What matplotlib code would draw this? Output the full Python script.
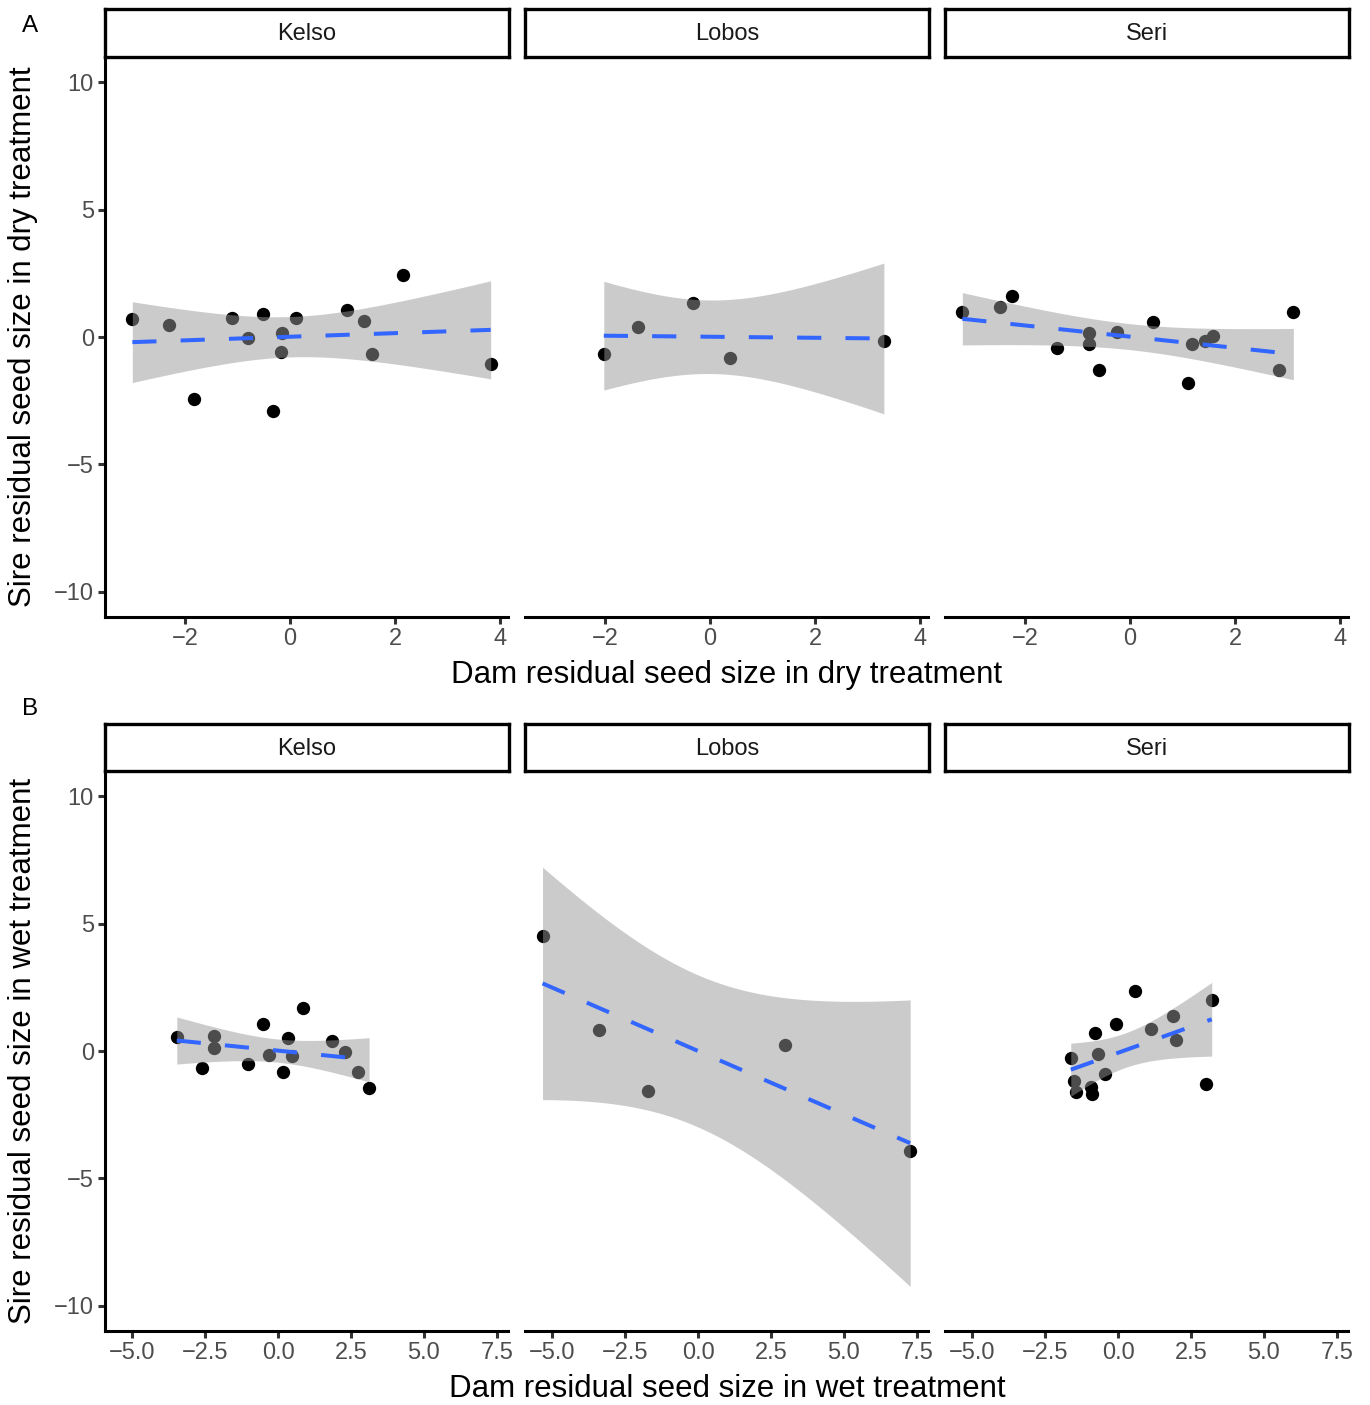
import numpy as np
import matplotlib
matplotlib.use("Agg")
import matplotlib.pyplot as plt

plt.rcParams['font.family'] = ['Liberation Sans', 'DejaVu Sans']

sites = ["Kelso", "Lobos", "Seri"]

# dry treatment (row A): dam residual (x) vs sire residual (y)
dry_x = {
    "Kelso": [-3.00, -2.30, -1.83, -1.10, -0.52, -0.79, -0.32, -0.15, -0.17, 0.11, 1.09, 1.40, 1.56, 2.15, 3.82],
    "Lobos": [-2.02, -1.36, -0.32, 0.38, 3.31],
    "Seri": [-3.19, -2.48, -2.25, -1.39, -0.77, -0.78, -0.58, -0.25, 0.44, 1.11, 1.18, 1.43, 1.58, 2.83, 3.11],
}
dry_y = {
    "Kelso": [0.71, 0.48, -2.44, 0.76, 0.89, -0.04, -2.90, 0.15, -0.60, 0.75, 1.08, 0.63, -0.67, 2.43, -1.08],
    "Lobos": [-0.68, 0.38, 1.33, -0.84, -0.14],
    "Seri": [0.97, 1.18, 1.61, -0.45, 0.17, -0.29, -1.29, 0.20, 0.60, -1.80, -0.28, -0.16, 0.03, -1.29, 1.00],
}

# wet treatment (row B)
wet_x = {
    "Kelso": [-3.47, -2.60, -2.18, -2.18, -1.04, -0.51, -0.31, 0.16, 0.33, 0.47, 0.87, 1.84, 2.29, 2.73, 3.12],
    "Lobos": [-5.33, -3.39, -1.72, 2.98, 7.27],
    "Seri": [-1.62, -1.50, -1.45, -0.80, -0.94, -0.88, -0.68, -0.45, -0.08, 0.59, 1.12, 1.90, 1.98, 3.00, 3.21],
}
wet_y = {
    "Kelso": [0.56, -0.68, 0.59, 0.13, -0.52, 1.06, -0.14, -0.81, 0.52, -0.18, 1.70, 0.39, -0.04, -0.84, -1.47],
    "Lobos": [4.53, 0.83, -1.57, 0.24, -3.93],
    "Seri": [-0.28, -1.18, -1.61, 0.72, -1.41, -1.69, -0.10, -0.92, 1.07, 2.37, 0.88, 1.38, 0.43, -1.31, 1.99],
}

dry_xticks = [-2, 0, 2, 4]
wet_xticks = [-5.0, -2.5, 0.0, 2.5, 5.0, 7.5]
yticks = [-10, -5, 0, 5, 10]

# t quantiles (0.975) for the lm confidence band
t975 = {3: 3.182, 13: 2.160}

W, H = 1370, 1405
fig = plt.figure(figsize=(W / 100, H / 100), dpi=100)


def px_axes(x0, y0, x1, y1):
    return fig.add_axes([x0 / W, 1 - y1 / H, (x1 - x0) / W, (y1 - y0) / H])


def lm_band(x, y):
    x = np.asarray(x)
    y = np.asarray(y)
    n = len(x)
    b, a = np.polyfit(x, y, 1)
    resid = y - (a + b * x)
    s = np.sqrt(np.sum(resid ** 2) / (n - 2))
    sxx = np.sum((x - x.mean()) ** 2)
    xs = np.linspace(x.min(), x.max(), 80)
    fit = a + b * xs
    se = s * np.sqrt(1 / n + (xs - x.mean()) ** 2 / sxx)
    t = t975[n - 2]
    return xs, fit, fit - t * se, fit + t * se


def draw_row(xd, yd, xticks, xfmt, xlim, top, strip_top, xlabel, ylabel, tag, tag_y):
    lefts = [105, 525, 945]
    for i, site in enumerate(sites):
        x0 = lefts[i]
        x1 = x0 + 403
        ax = px_axes(x0, top, x1, top + 560)
        ax.scatter(xd[site], yd[site], s=92, color="black", zorder=2, linewidths=0)
        xs, fit, lo, hi = lm_band(xd[site], yd[site])
        ax.fill_between(xs, lo, hi, color="#999999", alpha=0.5, linewidth=0, zorder=3)
        ax.plot(xs, fit, color="#3366FF", lw=2.9, linestyle=(0, (6, 6)), zorder=4)
        ax.set_xlim(*xlim)
        ax.set_ylim(-11, 11)
        for side in ["top", "right"]:
            ax.spines[side].set_visible(False)
        ax.spines["bottom"].set_linewidth(2.2)
        ax.spines["left"].set_linewidth(2.2)
        ax.set_xticks(xticks)
        ax.set_xticklabels([xfmt(v).replace("-", "\u2212") for v in xticks])
        ax.tick_params(axis="x", length=5, width=2.2, color="#333333",
                       labelcolor="#4D4D4D", labelsize=17, pad=3)
        if i == 0:
            ax.set_yticks(yticks)
            ax.set_yticklabels([str(v).replace("-", "\u2212") for v in yticks])
            ax.tick_params(axis="y", length=5, width=2.2, color="#333333",
                           labelcolor="#4D4D4D", labelsize=17, pad=3)
        else:
            ax.spines["left"].set_visible(False)
            ax.set_yticks([])
        # strip
        sax = px_axes(x0, strip_top, x1 + 1, top)
        sax.set_xticks([])
        sax.set_yticks([])
        for sp in sax.spines.values():
            sp.set_linewidth(2.4)
        sax.text(0.5, 0.47, site, ha="center", va="center", fontsize=17,
                 color="#1A1A1A", transform=sax.transAxes)
    fig.text(727 / W, 1 - (top + 618) / H, xlabel, ha="center", va="center",
             fontsize=22.5, color="black")
    fig.text(23 / W, 1 - (top + 280) / H, ylabel, ha="center", va="center",
             fontsize=22.5, rotation=90, color="black")
    fig.text(30 / W, 1 - tag_y / H, tag, ha="center", va="center",
             fontsize=17.5, color="black")


draw_row(dry_x, dry_y, dry_xticks, lambda v: "%d" % v, (-3.52, 4.15), 57, 9,
         "Dam residual seed size in dry treatment",
         "Sire residual seed size in dry treatment", "A", 26)
draw_row(wet_x, wet_y, wet_xticks, lambda v: "%.1f" % v, (-5.93, 7.88), 771, 724,
         "Dam residual seed size in wet treatment",
         "Sire residual seed size in wet treatment", "B", 709)

fig.savefig("out.png", dpi=100)
